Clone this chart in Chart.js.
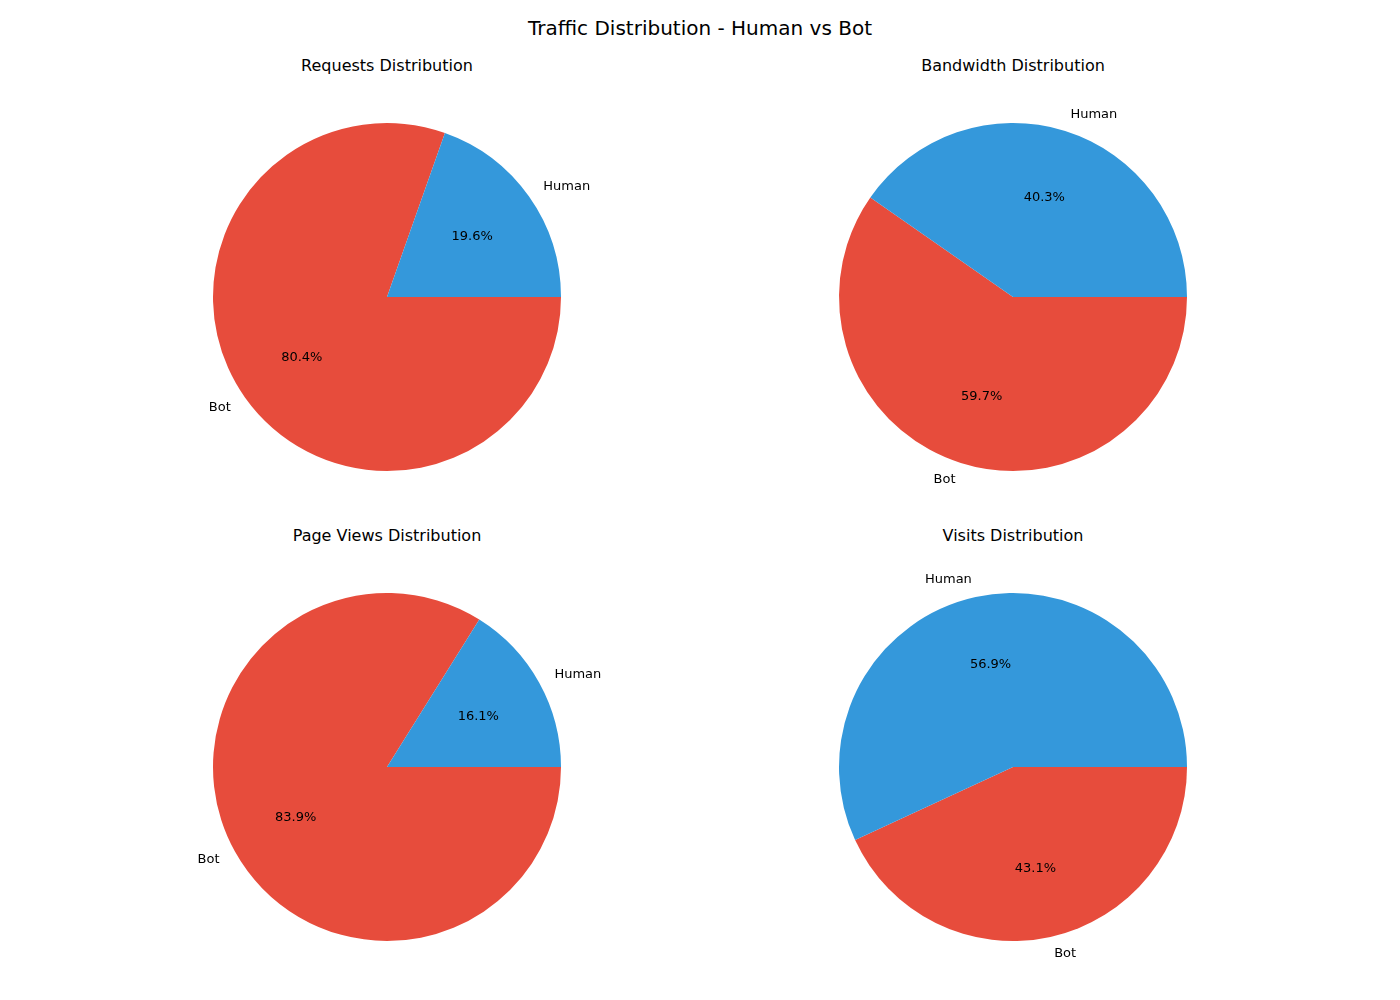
<!DOCTYPE html>
<html><head><meta charset="utf-8">
<script src="https://cdn.jsdelivr.net/npm/chart.js@4"></script>
<style>
body{margin:0;width:1400px;height:1000px;background:#fff;position:relative;font-family:"DejaVu Sans",sans-serif;overflow:hidden}
.t{position:absolute;transform:translateX(-50%);white-space:nowrap;color:#000}
.c{position:absolute;width:440px;height:440px}
</style></head><body>
<div class="t" style="left:700px;top:16px;font-size:20px">Traffic Distribution - Human vs Bot</div>
<script>
const categories = ["Human", "Bot"];
const titles = ["Requests Distribution", "Bandwidth Distribution", "Page Views Distribution", "Visits Distribution"];
const humanPct = [19.6, 40.3, 16.1, 56.9];
const botPct = [80.4, 59.7, 83.9, 43.1];
const colors = ["#3498db", "#e74c3c"];
const centers = [[387,297],[1013,297],[387,767],[1013,767]];

const labelPlugin = {
  id:'mplLabels',
  afterDatasetsDraw(chart){
    const ctx = chart.ctx;
    const meta = chart.getDatasetMeta(0);
    ctx.save();
    ctx.font = '13px "DejaVu Sans"';
    ctx.fillStyle = '#000';
    meta.data.forEach((arc, i) => {
      const mid = (arc.startAngle + arc.endAngle) / 2;
      const r = arc.outerRadius;
      const cx = arc.x, cy = arc.y;
      const lx = cx + Math.cos(mid) * r * 1.1, ly = cy + Math.sin(mid) * r * 1.1;
      ctx.textBaseline = 'middle';
      ctx.textAlign = Math.cos(mid) >= 0 ? 'left' : 'right';
      ctx.fillText(chart.data.labels[i], lx, ly);
      ctx.textAlign = 'center';
      const v = chart.data.datasets[0].data[i];
      ctx.fillText(v.toFixed(1) + '%', cx + Math.cos(mid) * r * 0.6, cy + Math.sin(mid) * r * 0.6);
    });
    ctx.restore();
  }
};

titles.forEach((title, k) => {
  const [cx, cy] = centers[k];
  const t = document.createElement('div');
  t.className = 't'; t.style.left = cx + 'px'; t.style.top = (cy - 241) + 'px'; t.style.fontSize = '16px';
  t.textContent = title; document.body.appendChild(t);
  const d = document.createElement('div');
  d.className = 'c'; d.style.left = (cx - 220) + 'px'; d.style.top = (cy - 220) + 'px';
  const cv = document.createElement('canvas'); d.appendChild(cv); document.body.appendChild(d);
  // matplotlib draws counterclockwise from 3 o'clock; Chart.js clockwise -> reverse order, start at east
  new Chart(cv, {
    type: 'pie',
    data: { labels: [categories[1], categories[0]],
      datasets: [{ data: [botPct[k], humanPct[k]], backgroundColor: [colors[1], colors[0]], borderWidth: 0 }] },
    options: { responsive: true, maintainAspectRatio: false, animation: false, rotation: 90,
      layout: { padding: 46 },
      plugins: { legend: { display: false }, tooltip: { enabled: false } } },
    plugins: [labelPlugin]
  });
});
</script>
</body></html>
